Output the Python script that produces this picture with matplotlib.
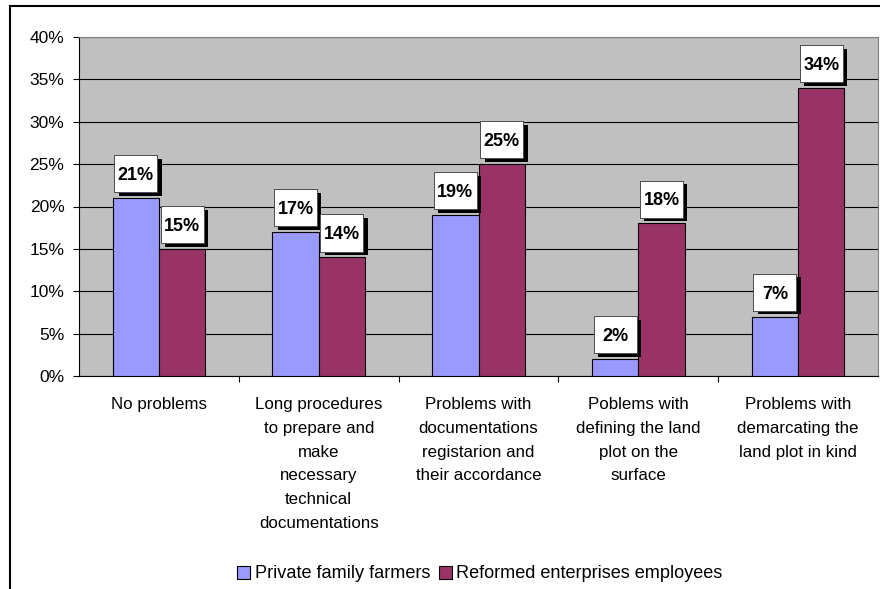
import matplotlib.pyplot as plt
import matplotlib.patheffects as pe
from matplotlib.patches import Rectangle
from matplotlib.path import Path
from matplotlib.ticker import FixedLocator, PercentFormatter
import numpy as np

categories = [
    "No problems",
    "Long procedures\nto prepare and\nmake\nnecessary\ntechnical\ndocumentations",
    "Problems with\ndocumentations\nregistarion and\ntheir accordance",
    "Poblems with\ndefining the land\nplot on the\nsurface",
    "Problems with\ndemarcating the\nland plot in kind",
]
series_names = ["Private family farmers", "Reformed enterprises employees"]
farmers = [21, 17, 19, 2, 7]
employees = [15, 14, 25, 18, 34]
y_ticks = [0, 5, 10, 15, 20, 25, 30, 35, 40]

plt.rcParams['font.family'] = ['Liberation Sans', 'DejaVu Sans']


def label_box(x0, y0, width, height, mutation_size):
    # fixed size box around the digits, like the Excel data labels
    xc = x0 + width / 2
    yc = y0 + 0.21 * mutation_size + 0.36 * mutation_size
    hw, hh = 1.19 * mutation_size, 1.025 * mutation_size
    return Path([(xc - hw, yc - hh), (xc + hw, yc - hh), (xc + hw, yc + hh),
                 (xc - hw, yc + hh), (xc - hw, yc - hh)],
                [Path.MOVETO, Path.LINETO, Path.LINETO, Path.LINETO, Path.CLOSEPOLY])


fig = plt.figure(figsize=(8.8, 5.89), dpi=100)
ax = fig.add_axes([79/880, 1-376/589, 799/880, 339/589])
ax.set_facecolor('#C0C0C0')

x = np.arange(len(categories))
w = 0.29
colors = ['#9999FF', '#993366']

for k, vals in enumerate([farmers, employees]):
    pos = x + (k - 0.5) * w
    ax.bar(pos, vals, w, color=colors[k], edgecolor='black', linewidth=0.8,
           label=series_names[k], zorder=3)
    for px, v in zip(pos, vals):
        t = ax.annotate(f"{v}%", (px, v), xytext=(0, 13), textcoords='offset points',
                        ha='center', va='baseline', fontsize=13, fontweight='bold',
                        zorder=5,
                        bbox=dict(boxstyle=label_box, fc='white', ec='#404040', lw=0.6))
        t.get_bbox_patch().set_path_effects(
            [pe.withSimplePatchShadow(offset=(3.2, -2.6), shadow_rgbFace='black', alpha=1.0),
             pe.Normal()])

ax.set_xlim(-0.5, len(categories) - 0.5)
ax.set_ylim(0, 40)
ax.yaxis.set_major_locator(FixedLocator(y_ticks))
ax.yaxis.set_major_formatter(PercentFormatter(decimals=0))
ax.yaxis.grid(True, color='black', linewidth=0.8, zorder=0)
ax.set_axisbelow(True)

ax.set_xticks(x)
ax.set_xticklabels(categories, fontsize=12.2, linespacing=1.74)
ax.xaxis.set_minor_locator(FixedLocator(np.arange(0.5, len(categories) - 1, 1.0)))
ax.tick_params(axis='x', which='major', length=0, pad=15)
ax.tick_params(axis='x', which='minor', length=4.5, width=0.8, direction='out')
ax.tick_params(axis='y', length=4.5, width=0.8, pad=6, labelsize=12.5)

for s in ['top', 'right']:
    ax.spines[s].set_color('#808080')
    ax.spines[s].set_linewidth(0.8)
ax.spines['left'].set_linewidth(0.8)
ax.spines['bottom'].set_linewidth(0.8)

fig.legend(loc='center', bbox_to_anchor=(480/880, 1-574/589), ncol=2, frameon=False,
           fontsize=13.1, handlelength=0.7, handleheight=0.7, handletextpad=0.25,
           columnspacing=0.5, borderaxespad=0)

# outer chart border (clipped at right and bottom like the source)
fig.patches.append(Rectangle((9.5/880, -0.1), 1.2, 1.1 - 6/589, transform=fig.transFigure,
                             fill=False, ec='black', lw=1.5, clip_on=False))

fig.savefig('out.png', dpi=100)
